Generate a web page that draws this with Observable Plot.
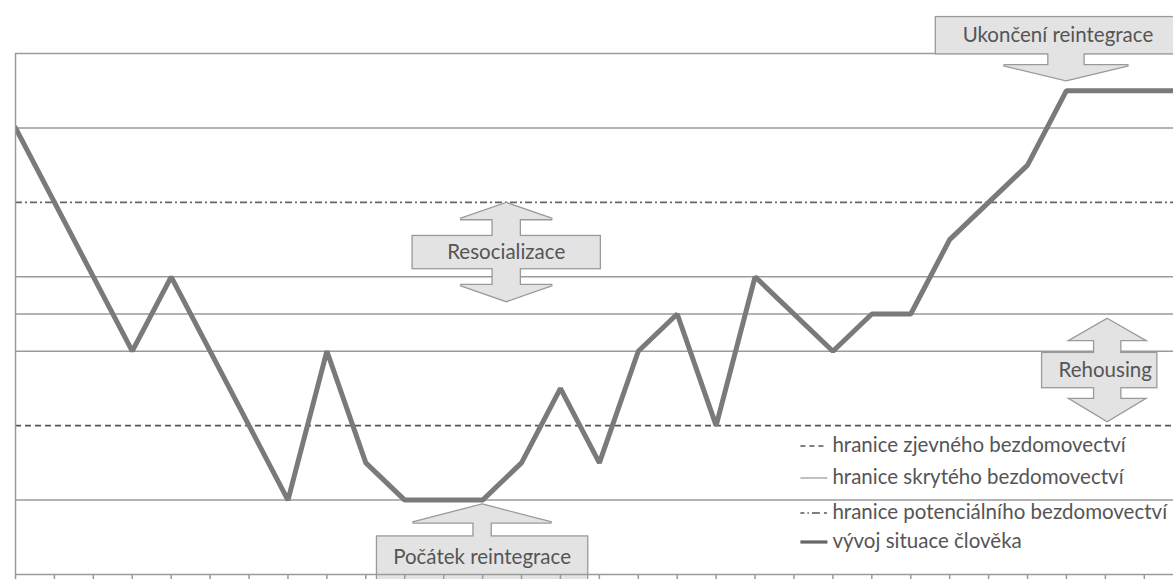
<!DOCTYPE html>
<html><head><meta charset="utf-8">
<script src="https://cdn.jsdelivr.net/npm/d3@7"></script>
<script src="https://cdn.jsdelivr.net/npm/@observablehq/plot@0.6"></script>
<style>
html,body{margin:0;padding:0;background:#fff;}
#chart{width:1173px;height:579px;overflow:hidden;}
</style>
</head><body><div id="chart"></div>
<script>
// Steps in time (x) and the person's situation level (y)
const steps  = [0, 3, 4, 7, 8, 9, 10, 11, 12, 13, 14, 15, 16, 17, 18, 19, 21, 22, 23, 24, 25, 26, 27, 30];
const levels = [12, 6, 8, 2, 6, 3, 2, 2, 2, 3, 5, 3, 6, 7, 4, 8, 6, 7, 7, 9, 10, 11, 13, 13];

// Horizontal boundary levels
const gridLevels = [2, 6, 7, 8, 12, 14];
const overtLevels = [4];      // hranice zjevného bezdomovectví
const potentialLevels = [10]; // hranice potenciálního bezdomovectví

const tickSteps = d3.range(0, 31);

const legendLabels = [
  "hranice zjevného bezdomovectví",
  "hranice skrytého bezdomovectví",
  "hranice potenciálního bezdomovectví",
  "vývoj situace člověka"
];

const phaseLabels = ["Resocializace", "Rehousing", "Ukončení reintegrace", "Počátek reintegrace"];

const FONT = "Lato, 'Open Sans', sans-serif";
const FS = 20.5;
const boxFill = "#e3e3e3", boxStroke = "#9a9a9a", textFill = "#555";

const path = steps.map((s, i) => ({step: s, level: levels[i]}));

function phases(index, scales) {
  const {x, y} = scales;
  const g = d3.create("svg:g");
  const specs = [
    { // Resocializace: double arrow
      cx: x(12.62), cy: y(8.65), label: phaseLabels[0], tx: 0, ty: 0,
      polys: [[[0,-49],[46,-33],[13.5,-33],[13.5,33],[46,33],[0,49],[-46,33],[-13.5,33],[-13.5,-33],[-46,-33]]],
      box: [-93.5, -16, 187, 32]
    },
    { // Rehousing: double arrow
      cx: x(28.06), cy: y(5.48), label: phaseLabels[1], tx: -2, ty: 0,
      polys: [[[0,-51],[36.5,-30],[13,-30],[13,29],[36.5,29],[0,51],[-36.5,29],[-13,29],[-13,-30],[-36.5,-30]]],
      box: [-65, -17, 114, 34]
    },
    { // Ukončení reintegrace: down arrow
      cx: x(27), cy: y(13) - 10, label: phaseLabels[2], tx: -8, ty: -45,
      polys: [[[0,0],[62.5,-15],[17.5,-15],[17.5,-40],[-17.5,-40],[-17.5,-15],[-62.5,-15]]],
      box: [-130, -63, 240, 36]
    },
    { // Počátek reintegrace: up arrow
      cx: x(12), cy: y(2) + 5, label: phaseLabels[3], tx: 0, ty: 52,
      polys: [[[0,0],[69.5,18],[8.5,18],[8.5,40],[-8.5,40],[-8.5,18],[-69.5,18]]],
      box: [-105, 32, 210, y(0) - (y(2) + 5)]
    }
  ];
  for (const pass of ["stroke", "fill"]) {
    for (const s of specs) {
      const gg = g.append("g").attr("transform", `translate(${s.cx},${s.cy})`);
      for (const p of s.polys) {
        gg.append("polygon").attr("points", p.map(d => d.join(",")).join(" "))
          .attr("fill", boxFill)
          .attr("stroke", pass === "stroke" ? boxStroke : "none")
          .attr("stroke-width", pass === "stroke" ? 2.6 : 0)
          .attr("stroke-linejoin", "miter");
      }
      gg.append("rect").attr("x", s.box[0]).attr("y", s.box[1]).attr("width", s.box[2]).attr("height", s.box[3])
        .attr("fill", boxFill)
        .attr("stroke", pass === "stroke" ? boxStroke : "none")
        .attr("stroke-width", pass === "stroke" ? 2.6 : 0);
    }
  }
  for (const s of specs) {
    g.append("text").attr("x", s.cx + s.tx).attr("y", s.cy + s.ty)
      .attr("text-anchor", "middle").attr("dy", "0.35em")
      .attr("font-family", FONT).attr("font-size", FS).attr("fill", textFill)
      .text(s.label);
  }
  return g.node();
}

function legend(index, scales) {
  const {x, y} = scales;
  const x0 = x(21), y0 = y(0);
  const rows = [-129, -97, -62, -33];
  const g = d3.create("svg:g");
  const sym = [
    {stroke: "#555", width: 1.6, dash: "5,4"},
    {stroke: "#b0b0b0", width: 1.6, dash: null},
    {stroke: "#555", width: 1.6, dash: "4,3,1.5,3,8"},
    {stroke: "#666", width: 3.2, dash: null}
  ];
  legendLabels.forEach((label, i) => {
    const yy = y0 + rows[i];
    g.append("line").attr("x1", x0 - 32).attr("x2", x0 - 5).attr("y1", yy + 1).attr("y2", yy + 1)
      .attr("stroke", sym[i].stroke).attr("stroke-width", sym[i].width)
      .attr("stroke-dasharray", sym[i].dash);
    g.append("text").attr("x", x0).attr("y", yy).attr("dy", "0.35em")
      .attr("text-anchor", "start")
      .attr("font-family", FONT).attr("font-size", FS).attr("fill", textFill)
      .text(label);
  });
  return g.node();
}

const chart = Plot.plot({
  width: 1173,
  height: 579,
  marginLeft: 15,
  marginRight: 0,
  marginTop: 53,
  marginBottom: 5,
  x: {domain: [0, 29.75], axis: null},
  y: {domain: [0, 14], axis: null},
  style: {background: "#fff", fontFamily: FONT, overflow: "visible"},
  marks: [
    Plot.ruleY(gridLevels, {stroke: "#9a9a9a", strokeWidth: 1.5}),
    Plot.ruleY(overtLevels, {stroke: "#555", strokeWidth: 1.6, strokeDasharray: "6,4"}),
    Plot.ruleY(potentialLevels, {stroke: "#666", strokeWidth: 1.6, strokeDasharray: "7,3,2,3"}),
    Plot.line(path, {x: "step", y: "level", stroke: "#7a7a7a", strokeWidth: 5, strokeLinejoin: "miter", clip: true}),
    phases,
    legend,
    Plot.ruleX([0], {y1: 0, y2: 14, stroke: "#9a9a9a", strokeWidth: 1.5}),
    Plot.ruleY([0], {stroke: "#9a9a9a", strokeWidth: 1.5}),
    Plot.axisX({ticks: tickSteps, tickSize: 8, tickFormat: () => "", label: null, stroke: "#9a9a9a", strokeWidth: 1.5})
  ]
});
document.getElementById("chart").appendChild(chart);
</script>
</body></html>
